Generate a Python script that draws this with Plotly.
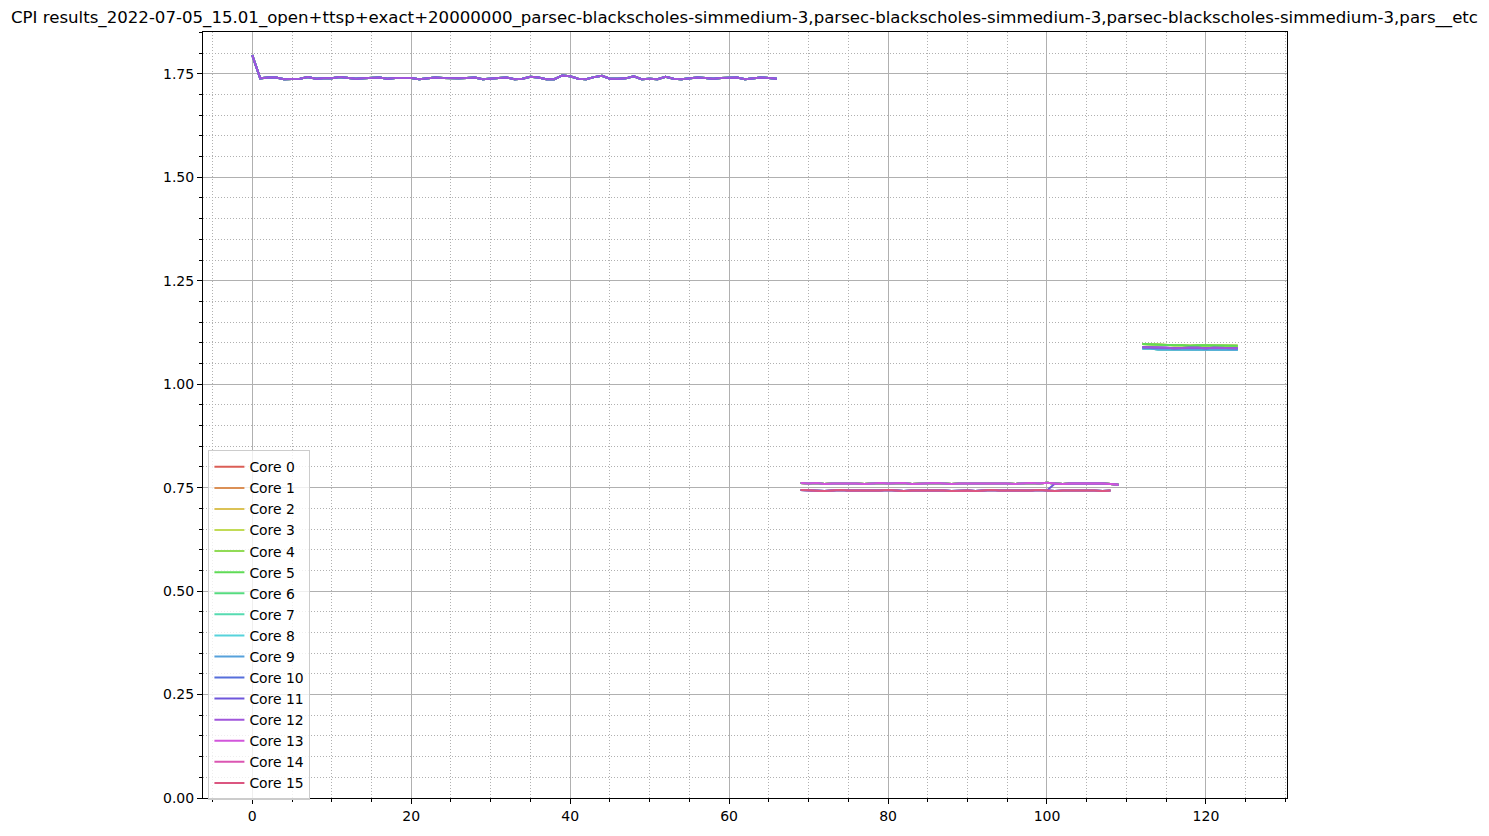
import colorsys
import plotly.graph_objects as go

TITLE = ("CPI results_2022-07-05_15.01_open+ttsp+exact+20000000_parsec-blackscholes-simmedium-3,"
         "parsec-blackscholes-simmedium-3,parsec-blackscholes-simmedium-3,pars__etc")

core_names = [f"Core {i}" for i in range(16)]

# Segment 1 (x = 0..66)
seg1_x = list(range(0, 67))
seg1_cpi = [1.795, 1.739, 1.741, 1.741, 1.737, 1.738, 1.738, 1.742, 1.738, 1.739,
            1.739, 1.742, 1.740, 1.738, 1.739, 1.740, 1.741, 1.738, 1.740, 1.740,
            1.740, 1.737, 1.739, 1.741, 1.740, 1.739, 1.739, 1.740, 1.741, 1.737,
            1.739, 1.740, 1.741, 1.737, 1.738, 1.743, 1.741, 1.737, 1.737, 1.746,
            1.744, 1.738, 1.737, 1.742, 1.745, 1.738, 1.738, 1.739, 1.744, 1.737,
            1.738, 1.737, 1.743, 1.738, 1.737, 1.739, 1.741, 1.740, 1.738, 1.740,
            1.741, 1.741, 1.737, 1.739, 1.741, 1.740, 1.738]
seg1_cores = list(range(0, 13))

# Segment 2 (x = 69..109 upper, 69..108 lower)
seg2_upper_x = list(range(69, 110))
seg2_upper = [0.761, 0.760, 0.761, 0.759, 0.760, 0.760, 0.761, 0.760, 0.759, 0.760,
              0.761, 0.760, 0.760, 0.761, 0.759, 0.760, 0.760, 0.761, 0.760, 0.759,
              0.760, 0.760, 0.761, 0.760, 0.760, 0.761, 0.760, 0.759, 0.760, 0.761,
              0.760, 0.762, 0.760, 0.759, 0.760, 0.760, 0.761, 0.760, 0.760, 0.759,
              0.757]
seg2_lower_x = list(range(69, 109))
seg2_lower = [0.744, 0.743, 0.743, 0.742, 0.743, 0.744, 0.743, 0.743, 0.742, 0.743,
              0.743, 0.744, 0.743, 0.742, 0.743, 0.743, 0.743, 0.744, 0.743, 0.742,
              0.743, 0.743, 0.742, 0.743, 0.744, 0.743, 0.743, 0.742, 0.743, 0.743,
              0.744, 0.743, 0.742, 0.743, 0.743, 0.743, 0.744, 0.743, 0.742, 0.743]
seg2_upper_cores = [0, 1, 2, 3, 4, 5, 6, 7, 12, 13]
seg2_lower_cores = [8, 9, 10, 14, 15]
seg2_switch_core = 11
seg2_switch_x = 101

# Segment 3 (x = 112..124)
seg3_x = list(range(112, 125))
seg3_high = [1.097, 1.096, 1.095, 1.094, 1.094, 1.094, 1.093, 1.094, 1.094, 1.094, 1.094, 1.093, 1.093]
seg3_mid = [1.089, 1.089, 1.088, 1.088, 1.087, 1.088, 1.088, 1.088, 1.087, 1.088, 1.088, 1.087, 1.087]
seg3_low = [1.086, 1.086, 1.084, 1.084, 1.083, 1.084, 1.084, 1.084, 1.083, 1.084, 1.084, 1.083, 1.083]
seg3_high_cores = [1, 2, 3, 4, 5]
seg3_mid_cores = [0, 10, 11, 12]
seg3_low_cores = [6, 7, 8, 9]

x_ticks = [0, 20, 40, 60, 80, 100, 120]
y_ticks = [0.0, 0.25, 0.5, 0.75, 1.0, 1.25, 1.5, 1.75]


def hls_colors(n, h=0.01, l=0.6, s=0.65):
    out = []
    for i in range(n):
        hue = (h + i / n) % 1
        r, g, b = colorsys.hls_to_rgb(hue, l, s)
        out.append(f"rgb({int(r*255)},{int(g*255)},{int(b*255)})")
    return out


colors = hls_colors(16)

fig = go.Figure()
for c in range(16):
    xs, ys = [], []
    if c in seg1_cores:
        xs += seg1_x + [None]
        ys += seg1_cpi + [None]
    if c in seg2_upper_cores:
        xs += seg2_upper_x + [None]
        ys += seg2_upper + [None]
    elif c in seg2_lower_cores:
        xs += seg2_lower_x + [None]
        ys += seg2_lower + [None]
    elif c == seg2_switch_core:
        k_lo = seg2_lower_x.index(seg2_switch_x - 1) + 1
        k_up = seg2_upper_x.index(seg2_switch_x)
        xs += seg2_lower_x[:k_lo] + seg2_upper_x[k_up:] + [None]
        ys += seg2_lower[:k_lo] + seg2_upper[k_up:] + [None]
    if c in seg3_high_cores:
        xs += seg3_x
        ys += seg3_high
    elif c in seg3_mid_cores:
        xs += seg3_x
        ys += seg3_mid
    elif c in seg3_low_cores:
        xs += seg3_x
        ys += seg3_low
    fig.add_trace(go.Scatter(
        x=xs, y=ys, mode="lines", name=core_names[c],
        line=dict(color=colors[c], width=2),
        connectgaps=False,
    ))

grid_major = "#b0b0b0"
axis_common = dict(
    showline=True, linecolor="black", linewidth=1, mirror=True,
    ticks="outside", ticklen=5, tickcolor="black", tickwidth=1,
    showgrid=True, gridcolor=grid_major, gridwidth=1,
    zeroline=False,
    tickfont=dict(family="DejaVu Sans", size=14, color="black"),
)

fig.update_xaxes(
    range=[-6.2, 130.2], tickmode="array", tickvals=x_ticks,
    minor=dict(dtick=5, tick0=0, ticks="outside", ticklen=3, tickcolor="black",
               showgrid=True, gridcolor=grid_major, griddash="1px,2px", gridwidth=1),
    **axis_common,
)
fig.update_yaxes(
    range=[0, 1.851], tickmode="array", tickvals=y_ticks, tickformat=".2f",
    minor=dict(dtick=0.05, tick0=0, ticks="outside", ticklen=3, tickcolor="black",
               showgrid=True, gridcolor=grid_major, griddash="1px,2px", gridwidth=1),
    **axis_common,
)

fig.update_layout(
    width=1489, height=836,
    margin=dict(l=203, r=202, t=32, b=34),
    paper_bgcolor="white", plot_bgcolor="white",
    title=dict(text=TITLE, x=0.5, xanchor="center", y=0.98, yanchor="middle",
               font=dict(family="DejaVu Sans", size=16.6, color="black")),
    showlegend=True,
    legend=dict(
        x=0.005, y=-0.003, xanchor="left", yanchor="bottom",
        bgcolor="rgba(255,255,255,0.8)", bordercolor="#cccccc", borderwidth=1,
        font=dict(family="DejaVu Sans", size=13.9, color="black"),
        itemwidth=30,
    ),
)

fig.write_html("out.html")
